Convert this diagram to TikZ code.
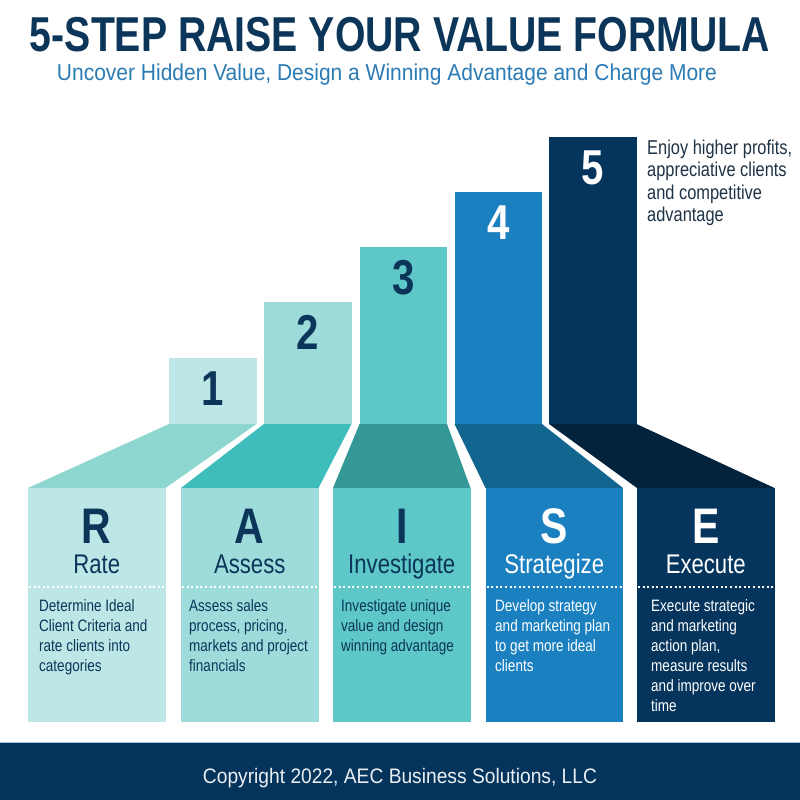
\documentclass[tikz,border=0pt]{standalone}
\usepackage{fontspec}
\usepackage{graphicx}
\setmainfont{Liberation Sans}
\newfontfamily\cnd{Liberation Sans}[FakeStretch=0.82]
\definecolor{navy}{HTML}{0B3559}
\definecolor{subblue}{HTML}{2B7BB5}
\definecolor{sidetxt}{HTML}{1F3347}
\definecolor{cA}{HTML}{BDE6E6}\definecolor{fA}{HTML}{8ED6D0}
\definecolor{cB}{HTML}{9EDCDC}\definecolor{fB}{HTML}{3FBDBD}
\definecolor{cC}{HTML}{5EC7C7}\definecolor{fC}{HTML}{349896}
\definecolor{cD}{HTML}{1A80C0}\definecolor{fD}{HTML}{12658F}
\definecolor{cE}{HTML}{05345D}\definecolor{fE}{HTML}{03223B}
\definecolor{footnavy}{HTML}{04345C}
\definecolor{footline}{HTML}{A3C6DF}
\tikzset{
  numlbl/.style={inner sep=0pt,anchor=base,font=\cnd\bfseries\fontsize{49}{49}\selectfont},
  biglet/.style={inner sep=0pt,anchor=base,font=\cnd\bfseries\fontsize{50}{50}\selectfont},
  wordlbl/.style={inner sep=0pt,anchor=base,font=\cnd\fontsize{27}{28}\selectfont},
  desc/.style={inner sep=0pt,anchor=north west,align=left,font=\cnd\fontsize{16.5}{20}\selectfont},
  dotline/.style={white,line width=1.6pt,dash pattern=on 2pt off 2.6pt},
}
\begin{document}
\begin{tikzpicture}[x=1pt,y=-1pt]
\useasboundingbox (0,0) rectangle (800,800);
\fill[white] (0,0) rectangle (800,800);
% title
\node[inner sep=0pt,anchor=base,text=navy] (title) at (400,52)
  {\resizebox{740pt}{\height}{\cnd\bfseries\fontsize{49}{49}\selectfont 5-STEP RAISE YOUR VALUE FORMULA}};
\node[inner sep=0pt,anchor=base,text=subblue] (subtitle) at (387,81)
  {\resizebox{660pt}{\height}{\cnd\fontsize{23}{24}\selectfont Uncover Hidden Value, Design a Winning Advantage and Charge More}};
% steps geometry
\foreach \cl/\ct/\bl/\cc/\fc in {169/358/28/cA/fA, 264/302/181/cB/fB, 359.5/247/333/cC/fC, 454.5/192/485.5/cD/fD, 549/137/637/cE/fE}{
  \fill[\cc] (\cl,\ct) rectangle (\cl+87.5,424);
  \fill[\fc] (\cl,424) -- (\cl+87.5,424) -- (\bl+137.5,488) -- (\bl,488) -- cycle;
  \fill[\cc] (\bl,488) rectangle (\bl+137.5,722);
  \draw[dotline] (\bl+1,587) -- (\bl+137.5,587);
}
% numbers
\node[numlbl,text=navy] (n1) at (212.75,405) {1};
\node[numlbl,text=navy] (n2) at (307.75,349) {2};
\node[numlbl,text=navy] (n3) at (403.25,294) {3};
\node[numlbl,text=white] (n4) at (498.25,239) {4};
\node[numlbl,text=white] (n5) at (592.75,184) {5};
% side text
\node[inner sep=0pt,anchor=north west,align=left,text=sidetxt,font=\cnd\fontsize{20}{22.5}\selectfont] (side) at (647,139.5)
  {Enjoy higher profits,\\appreciative clients\\and competitive\\advantage};
% letters
\node[biglet,text=navy] (lR) at (96.75,543) {R};
\node[biglet,text=navy] (lA) at (249.75,543) {A};
\node[biglet,text=navy] (lI) at (401.75,543) {I};
\node[biglet,text=white] (lS) at (554.25,543) {S};
\node[biglet,text=white] (lE) at (705.75,543) {E};
% words
\node[wordlbl,text=navy] (wR) at (96.75,573) {Rate};
\node[wordlbl,text=navy] (wA) at (249.75,573) {Assess};
\node[wordlbl,text=navy] (wI) at (401.75,573) {Investigate};
\node[wordlbl,text=white] (wS) at (554.25,573) {Strategize};
\node[wordlbl,text=white] (wE) at (705.75,573) {Execute};
% descriptions
\node[desc,text=navy] (dR) at (39,599) {Determine Ideal\\Client Criteria and\\rate clients into\\categories};
\node[desc,text=navy] (dA) at (189,599) {Assess sales\\process, pricing,\\markets and project\\financials};
\node[desc,text=navy] (dI) at (341,599) {Investigate unique\\value and design\\winning advantage};
\node[desc,text=white] (dS) at (495,599) {Develop strategy\\and marketing plan\\to get more ideal\\clients};
\node[desc,text=white] (dE) at (651,599) {Execute strategic\\and marketing\\action plan,\\measure results\\and improve over\\time};
% footer
\fill[footnavy] (0,742) rectangle (800,800);
\draw[footline,line width=1.2pt] (0,742.3) -- (800,742.3);
\node[inner sep=0pt,anchor=base,text=white!92!footnavy] (copy) at (400,783)
  {\resizebox{394pt}{\height}{\cnd\fontsize{21}{22}\selectfont Copyright 2022, AEC Business Solutions, LLC}};
\end{tikzpicture}
\end{document}
